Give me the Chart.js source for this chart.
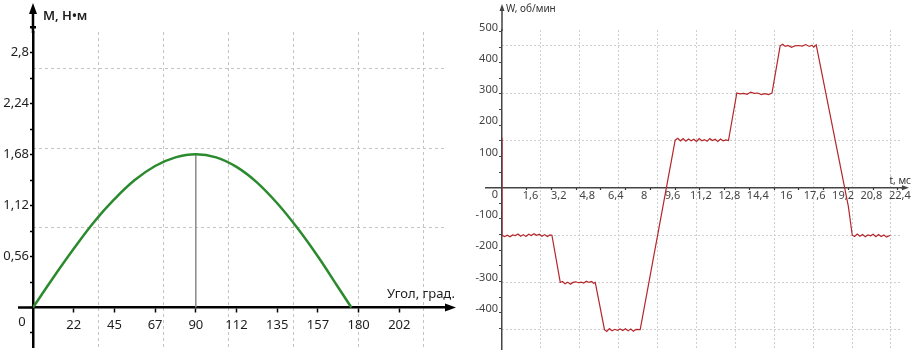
<!DOCTYPE html>
<html>
<head>
<meta charset="utf-8">
<script src="https://cdn.jsdelivr.net/npm/chart.js@4.4.0/dist/chart.umd.min.js"></script>
<style>
  body { margin: 0; background: #fff; width: 917px; height: 357px; overflow: hidden; position: relative; }
  canvas { position: absolute; top: 0; }
  #torque { left: 0; }
  #speed { left: 460px; }
</style>
</head>
<body>
<canvas id="torque" width="460" height="357"></canvas>
<canvas id="speed" width="457" height="357"></canvas>
<script>
// ---- left chart: torque vs angle ----
const angleDeg = [0, 11.25, 22.5, 33.75, 45, 56.25, 67.5, 78.75, 90, 101.25, 112.5, 123.75, 135, 146.25, 157.5, 168.75, 176];
const torqueNm = [0, 0.33, 0.645, 0.94, 1.19, 1.4, 1.555, 1.65, 1.685, 1.65, 1.545, 1.375, 1.145, 0.87, 0.56, 0.22, 0];
const peakAngle = 90;

const angleTicks = [22.5, 45, 67.5, 90, 112.5, 135, 157.5, 180, 202.5];
const angleLabels = ['22', '45', '67', '90', '112', '135', '157', '180', '202'];
const angleGrid = [36, 72, 108, 144, 180, 216];
const torqueTicks = [-0.28, 0, 0.28, 0.56, 0.84, 1.12, 1.4, 1.68, 1.96, 2.24, 2.52, 2.8];
const torqueLabels = ['', '', '', '0,56', '', '1,12', '', '1,68', '', '2,24', '', '2,8'];
const torqueGrid = [0.876, 1.752, 2.628];

// ---- right chart: speed vs time ----
const timeMs = [0, 0, 0.15, 0.3, 0.45, 0.6, 0.75, 0.9, 1.05, 1.2, 1.35, 1.5, 1.65, 1.8, 1.95, 2.1, 2.25, 2.4, 2.55, 2.7, 2.81,
  3.28, 3.4, 3.55, 3.7, 3.85, 4.0, 4.15, 4.3, 4.45, 4.6, 4.75, 4.9, 5.05, 5.15, 5.25,
  5.77, 5.9, 6.05, 6.2, 6.35, 6.5, 6.65, 6.8, 6.95, 7.1, 7.25, 7.4, 7.55, 7.78,
  9.75, 9.9, 10.05, 10.2, 10.35, 10.5, 10.65, 10.8, 10.95, 11.1, 11.25, 11.4, 11.55, 11.7, 11.85, 12.0, 12.15, 12.3, 12.45, 12.6, 12.75,
  13.22, 13.4, 13.6, 13.8, 14.0, 14.2, 14.4, 14.6, 14.8, 15.0, 15.2,
  15.66, 15.8, 15.95, 16.1, 16.3, 16.5, 16.7, 16.9, 17.1, 17.3, 17.45, 17.55, 17.69,
  19.5, 19.72, 19.85, 20.0, 20.15, 20.3, 20.45, 20.6, 20.75, 20.9, 21.05, 21.2, 21.35, 21.5, 21.65, 21.86];
const speedRpm = [160, -152, -156, -152, -157, -151, -153, -148, -155, -150, -156, -149, -153, -147, -152, -149, -155, -150, -156, -151, -152,
  -303, -300, -307, -302, -309, -303, -301, -304, -302, -305, -299, -303, -300, -306, -303,
  -454, -460, -451, -458, -453, -456, -452, -457, -451, -458, -452, -459, -453, -454,
  152, 158, 150, 157, 149, 156, 150, 155, 148, 157, 150, 154, 149, 157, 151, 155, 148, 156, 150, 153, 151,
  303, 300, 302, 299, 306, 302, 303, 298, 301, 298, 303,
  454, 459, 452, 455, 449, 454, 455, 453, 458, 452, 456, 450, 457,
  -60, -152, -156, -148, -155, -150, -157, -151, -154, -149, -157, -150, -156, -151, -158, -152];

const timeTicks = [1.6, 3.2, 4.8, 6.4, 8, 9.6, 11.2, 12.8, 14.4, 16, 17.6, 19.2, 20.8, 22.4];
const timeLabels = ['1,6', '3,2', '4,8', '6,4', '8', '9,6', '11,2', '12,8', '14,4', '16', '17,6', '19,2', '20,8', '22,4'];
const timeMarks = [1.39, 2.79, 4.18, 5.57, 6.96, 8.36, 9.75, 11.14, 12.53, 13.93, 15.32, 16.71, 18.1, 19.5, 20.89, 22.28];
const timeGrid = [2.19, 4.38, 6.57, 8.76, 10.95, 13.14, 15.33, 17.52, 19.71, 21.9];
const speedTicks = [-450, -400, -350, -300, -250, -200, -150, -100, -50, 0, 50, 100, 150, 200, 250, 300, 350, 400, 450, 500];
const speedLabels = ['', '-400', '', '-300', '', '-200', '', '-100', '', '', '', '100', '', '200', '', '300', '', '400', '', '500'];
const speedGrid = [-454, -303, -151.5, 151.5, 303, 454];

Chart.defaults.font.family = "'Noto Sans', sans-serif";
Chart.defaults.animation = false;
Chart.defaults.plugins.legend.display = false;
Chart.defaults.plugins.tooltip.enabled = false;

const setTicks = (vals) => (s) => { s.ticks = vals.map(v => ({ value: v })); };

// axis extensions, arrowheads and loose labels
const axisExtras = {
  id: 'axisExtras',
  afterDraw(chart, args, o) {
    const ctx = chart.ctx, a = chart.chartArea;
    const x0 = chart.scales.x.getPixelForValue(0);
    const y0 = chart.scales.y.getPixelForValue(0);
    ctx.save();
    ctx.strokeStyle = o.color;
    ctx.fillStyle = o.color;
    ctx.lineWidth = o.width;
    ctx.beginPath();
    ctx.moveTo(x0, a.top + 1);
    ctx.lineTo(x0, o.yTip + o.head);
    ctx.moveTo(o.xStart, y0);
    ctx.lineTo(a.left, y0);
    ctx.moveTo(a.right - 1, y0);
    ctx.lineTo(o.xTip - o.head, y0);
    (o.extraYTicks || []).forEach(v => {
      const p = chart.scales.y.getPixelForValue(v);
      ctx.moveTo(x0 - 3, p);
      ctx.lineTo(x0 + 3, p);
    });
    ctx.stroke();
    ctx.beginPath();
    ctx.moveTo(x0, o.yTip);
    ctx.lineTo(x0 - o.half, o.yTip + o.head);
    ctx.lineTo(x0 + o.half, o.yTip + o.head);
    ctx.closePath();
    ctx.moveTo(o.xTip, y0);
    ctx.lineTo(o.xTip - o.head, y0 - o.half);
    ctx.lineTo(o.xTip - o.head, y0 + o.half);
    ctx.closePath();
    ctx.fill();
    o.texts.forEach(t => {
      ctx.font = t.font;
      ctx.fillStyle = t.color;
      ctx.textAlign = t.align;
      ctx.textBaseline = 'middle';
      ctx.fillText(t.text, t.x, t.y);
    });
    ctx.restore();
  }
};

const hiddenGrid = (vals, pos, color, dash) => ({
  type: 'linear',
  position: pos,
  afterBuildTicks: setTicks(vals),
  afterFit: (s) => { if (s.isHorizontal()) s.height = 0; else s.width = 0; },
  ticks: { display: false },
  border: { display: false, dash: dash },
  grid: { color: color, lineWidth: 1, drawTicks: false }
});

new Chart(document.getElementById('torque'), {
  type: 'scatter',
  data: {
    datasets: [{
      data: angleDeg.map((a, i) => ({ x: a, y: torqueNm[i] })),
      showLine: true,
      borderColor: '#2b8a2e',
      borderWidth: 2.5,
      pointRadius: 0,
      tension: 0.4
    }, {
      data: [{ x: peakAngle, y: 0 }, { x: peakAngle, y: torqueNm[angleDeg.indexOf(peakAngle)] }],
      showLine: true,
      borderColor: '#8a8a8a',
      borderWidth: 1.5,
      pointRadius: 0
    }]
  },
  options: {
    responsive: false,
    layout: { padding: { left: 0, top: 32, right: 14, bottom: 10 } },
    scales: {
      xg: Object.assign(hiddenGrid(angleGrid, 'top', '#c4c4c4', [3, 3]), { min: 0, max: 228.3 }),
      yg: Object.assign(hiddenGrid(torqueGrid, 'right', '#c4c4c4', [3, 3]), { min: -0.434, max: 3.027 }),
      x: {
        type: 'linear',
        position: { y: 0 },
        min: 0, max: 228.3,
        afterBuildTicks: setTicks(angleTicks),
        afterFit: (s) => { s.height = 0; },
        ticks: { callback: (v, i) => angleLabels[i], autoSkip: false, maxRotation: 0, padding: 6, color: '#1e1e1e', font: { size: 13 } },
        border: { color: '#000', width: 2.5 },
        grid: { drawOnChartArea: false, tickLength: 4, tickColor: '#000', tickWidth: 1.5 }
      },
      y: {
        type: 'linear',
        position: 'left',
        min: -0.434, max: 3.027,
        afterBuildTicks: setTicks(torqueTicks),
        afterFit: (s) => { s.width = 33; },
        ticks: { callback: (v, i) => torqueLabels[i], autoSkip: false, padding: 1, color: '#1e1e1e', font: { size: 13 } },
        border: { color: '#000', width: 2.5 },
        grid: { drawOnChartArea: false, tickLength: 3, tickColor: '#000', tickWidth: 1.5 }
      }
    },
    plugins: {
      axisExtras: {
        color: '#000', width: 2.5, xStart: 18, xTip: 456, yTip: 3, head: 11, half: 4,
        extraYTicks: [3.08],
        texts: [
          { text: 'М, Н•м', x: 43, y: 16, align: 'left', color: '#1e1e1e', font: '600 13px "Noto Sans"' },
          { text: 'Угол, град.', x: 455, y: 294, align: 'right', color: '#1e1e1e', font: '13px "Noto Sans"' },
          { text: '0', x: 22, y: 322, align: 'center', color: '#1e1e1e', font: '13px "Noto Sans"' }
        ]
      }
    }
  },
  plugins: [axisExtras]
});

new Chart(document.getElementById('speed'), {
  type: 'scatter',
  data: {
    datasets: [{
      data: timeMs.map((t, i) => ({ x: t, y: speedRpm[i] })),
      showLine: true,
      borderColor: '#b5262b',
      borderWidth: 1.2,
      pointRadius: 0,
      tension: 0
    }]
  },
  options: {
    responsive: false,
    layout: { padding: { left: 0, top: 30, right: 15, bottom: 8 } },
    scales: {
      xg: Object.assign(hiddenGrid(timeGrid, 'top', '#cfcfcf', [2, 2]), { min: 0, max: 22.52 }),
      yg: Object.assign(hiddenGrid(speedGrid, 'right', '#cfcfcf', [2, 2]), { min: -516, max: 504.6 }),
      xt: {
        type: 'linear',
        position: { y: 0 },
        min: 0, max: 22.52,
        afterBuildTicks: setTicks(timeMarks),
        afterFit: (s) => { s.height = 0; },
        ticks: { display: false },
        border: { display: false },
        grid: { drawOnChartArea: false, tickLength: 2, tickColor: '#333', tickWidth: 1.2 }
      },
      x: {
        type: 'linear',
        position: { y: 0 },
        min: 0, max: 22.52,
        afterBuildTicks: setTicks(timeTicks),
        afterFit: (s) => { s.height = 0; },
        ticks: { callback: (v, i) => timeLabels[i], autoSkip: false, maxRotation: 0, padding: 2, color: '#444', font: { size: 11 } },
        border: { color: '#444', width: 1.5 },
        grid: { display: false, drawTicks: false }
      },
      y: {
        type: 'linear',
        position: 'left',
        min: -516, max: 504.6,
        afterBuildTicks: setTicks(speedTicks),
        afterFit: (s) => { s.width = 42; },
        ticks: { callback: (v, i) => speedLabels[i], autoSkip: false, padding: 1, labelOffset: -4, color: '#444', font: { size: 11 } },
        border: { color: '#444', width: 1.5 },
        grid: { drawOnChartArea: false, tickLength: 3, tickColor: '#444', tickWidth: 1.2 }
      }
    },
    plugins: {
      axisExtras: {
        color: '#444', width: 1.5, xStart: 25, xTip: 449, yTip: 4, head: 7, half: 2.5,
        texts: [
          { text: 'W, об/мин', x: 46, y: 9, align: 'left', color: '#333', font: '10px "Noto Sans"' },
          { text: 't, мс', x: 451, y: 181, align: 'right', color: '#333', font: '10px "Noto Sans"' },
          { text: '0', x: 35, y: 195, align: 'center', color: '#444', font: '11px "Noto Sans"' }
        ]
      }
    }
  },
  plugins: [axisExtras]
});
</script>
</body>
</html>
